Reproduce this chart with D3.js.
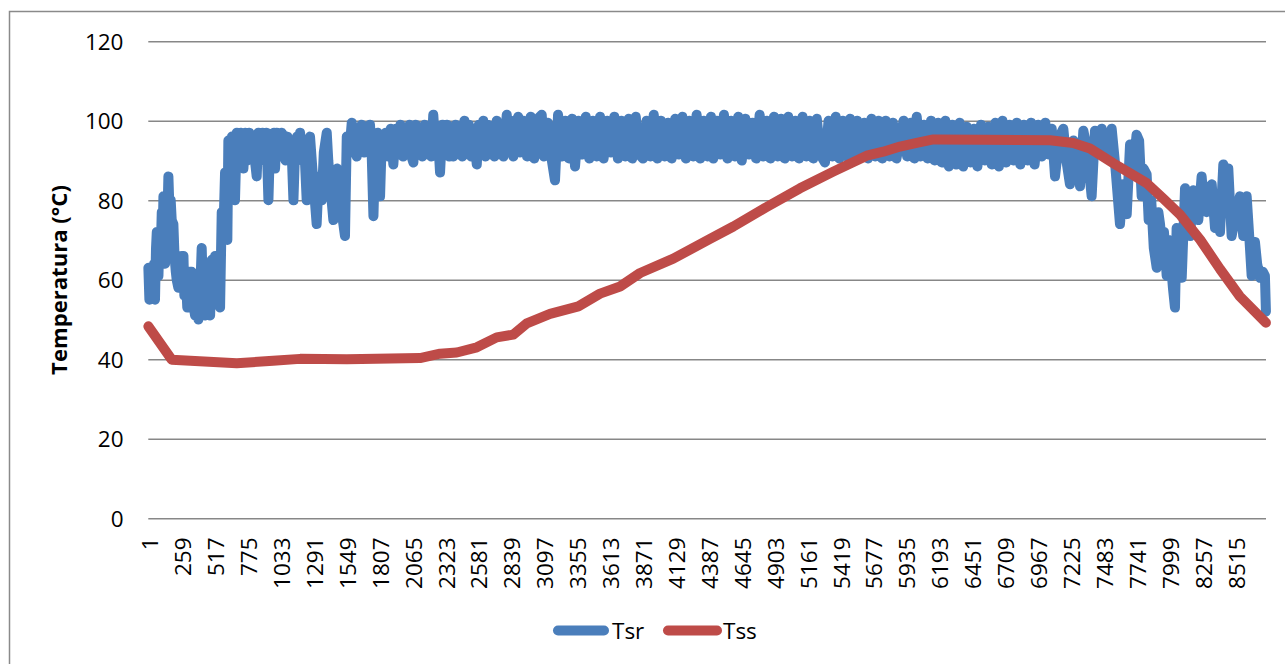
<!DOCTYPE html>
<html><head><meta charset="utf-8">
<script src="https://cdn.jsdelivr.net/npm/d3@7/dist/d3.min.js"></script>
<style>html,body{margin:0;padding:0;background:#fff;overflow:hidden}</style>
</head><body>
<svg id="chart" width="1285" height="664"></svg>
<script>
// ---------------- DATA ----------------
const nCategories = 8760;
const xTickLabels = [1,259,517,775,1033,1291,1549,1807,2065,2323,2581,2839,3097,3355,3613,3871,4129,4387,4645,4903,5161,5419,5677,5935,6193,6451,6709,6967,7225,7483,7741,7999,8257,8515];
const yTicks = [0,20,40,60,80,100,120];
const seriesNames = ["Tsr","Tss"];
const yTitle = "Temperatura (°C)";

// Tsr: [hour index, temperature]
const tsr = [
[0,63],[8,55],[20,62],[30,56],[45,64],[52,55],[60,68],[66,72],[72,62],[79,61],[88,72],[96,66],[105,77],[112,70],[118,81],[125,72],[131,64],[140,80],[150,76],[157,86],[165,78],[175,80],[183,75],[196,74],[205,66],[215,62],[222,60],[235,58],[248,64],[256,59],[262,66],[275,66],[282,56],[295,60],[305,53],[314,53],[325,62],[340,62],[352,54],[366,51],[375,58],[385,52],[392,50],[405,56],[418,68],[430,55],[444,51],[455,60],[465,53],[475,62],[484,51],[497,65],[510,56],[523,66],[535,60],[548,64],[562,53],[575,77],[590,74],[601,87],[612,80],[619,70],[627,95],
[640,90],[655,96],[668,89],[679,80],[693,97],[710,92],[725,97],[745,88],[760,97],[775,90],[790,97],[805,91],[820,96],[835,90],[849,86],[862,97],[878,91],[895,97],[910,90],[925,97],[941,80],[955,96],[970,90],[985,97],[993,88],[1005,97],[1020,92],[1032,91],[1045,97],[1060,96],[1075,90],[1090,96],[1105,91],[1120,95],[1137,80],[1150,93],[1165,96],[1178,92],[1189,97],[1205,90],[1220,95],[1241,80],[1255,92],[1267,96],[1285,88],[1300,82],[1319,74],[1335,86],[1359,80],[1375,92],[1398,97],[1410,90],[1425,84],[1450,75],[1465,85],[1480,88],[1489,87],[1505,80],[1520,76],[1541,71],[1555,96],
[1575,92],[1594,99.5],[1615,93],[1633,91],[1652,98],[1672,99],[1690,92],[1705,98],[1720,93],[1737,99],[1750,92],[1764,76],[1780,95],[1795,97],[1816,81],[1830,96],[1845,93],[1860,97],[1880,91],[1900,98],[1920,89],[1940,98],[1958,92],[1975,99],[1995,91],[2012,98],[2030,92],[2047,99],[2062,91],[2077,89.5],[2095,99],[2112,92],[2130,98],[2147,91],[2165,99],[2182,92],[2200,98],[2217,91],[2233,101.5],[2250,93],[2267,98],[2286,87],[2305,99],[2322,92],[2340,99],[2357,91],[2375,98],[2390,91],[2408,99],[2425,92],[2442,98],[2460,91],[2477,100],[2494,92],[2512,99],[2530,91],[2547,98],[2574,89],[2590,99],[2607,92],[2625,100],[2642,91],[2660,99],[2677,92],[2695,98],[2712,91],[2730,100],[2747,92],[2765,99],[2782,91],[2809,101.5],[2825,92],[2842,100],[2860,91],[2877,99],[2898,101],[2913,92],
[2940,100],[2968,91],[2996,101],[3024,90.5],[3052,100.5],[3083,101.5],[3100,91],[3130,99.5],[3160,90.5],[3187,85],[3211,101.5],[3240,91],[3268,100],[3296,90.5],[3320,100.5],[3344,88.5],[3372,100],[3400,91.5],[3428,101],[3456,90.5],[3484,100],[3512,91],[3540,101],[3568,90.5],[3596,100],[3624,92],[3652,101],[3680,90.5],[3708,100],[3736,91],[3764,100.5],[3792,90.5],[3820,101],[3848,91.5],[3877,90.5],[3905,100],[3933,91],[3961,101.5],[3989,90.5],[4017,100],[4045,91],[4073,99.5],[4101,90.5],[4129,100.5],[4157,91.5],[4185,101],[4213,90.5],[4241,100],[4269,91],[4297,101.5],[4325,90.5],[4353,100],[4381,91],[4409,101],[4427,90.5],[4455,100],[4483,91.5],[4511,101.5],[4539,90.5],[4567,100],[4595,91],[4623,101],[4651,90],[4679,100.5],[4707,91.5],[4735,99.5],[4763,90.5],[4791,101.5],[4819,91],[4847,100],[4875,90.5],[4903,101],[4931,91],[4959,100.5],[4987,90.5],[5015,101],[5043,91],[5071,100],[5099,90.5],[5127,101],[5155,91],[5183,100],[5211,90.5],[5239,100.5],[5267,91.5],[5303,89.5],[5331,100],[5359,91],[5387,101],[5415,90.5],[5443,100],[5471,91],[5499,100.5],[5527,90.5],[5555,100],[5583,91],[5611,99.5],[5639,90.5],[5667,100.5],[5695,91],[5723,100],[5751,90.5],[5779,100],[5807,91],[5835,99.5],[5863,90.5],
[5919,100],[5947,91],[5975,99.5],[6003,90.5],[6022,101],[6050,91],[6078,99],[6106,90.5],[6134,100],[6162,90],[6190,99.5],[6218,89.5],[6246,100],[6274,88.5],[6302,99],[6330,89],[6358,99.5],[6386,88.5],[6414,98.5],[6442,89.5],[6470,98],[6498,88.5],[6526,99],[6554,90],[6582,98.5],[6610,89],[6638,99.5],[6666,88.5],[6694,100],[6722,89.5],[6750,99],[6778,90],[6806,99.5],[6834,89],[6862,99],[6890,90],[6918,99.5],[6946,89],[6974,99],[7002,91],[7030,99.5],[7058,91.5],[7080,98],
[7106,86],[7140,96],[7171,98],[7195,90],[7223,84],[7250,95],[7280,92],[7302,83.5],[7328,97.5],[7360,92],[7393,81],[7419,97.5],[7445,93],[7472,98],[7511,91],[7550,98],[7580,88],[7615,74],[7640,84],[7668,76.5],[7694,94],[7720,88],[7745,96.5],[7765,95],[7785,81],[7800,88],[7824,86.5],[7840,75],[7860,80],[7880,68],[7903,63],[7916,77],[7929,74],[7945,68],[7960,72],[7981,61],[7995,70],[8010,66],[8030,58],[8046,53],[8059,73],[8080,68],[8099,60.5],[8125,83],[8145,76],[8164,71],[8190,82.5],[8210,76],[8229,75],[8255,86],[8275,78],[8295,77],[8315,82],[8334,84],[8360,73],[8380,78],[8399,72],[8425,89],[8445,82],[8464,88],[8490,71],[8520,76],[8555,81],[8581,71],[8608,81],[8630,70],[8647,61],[8673,69.5],[8690,64],[8712,60.5],[8735,62],[8751,61],[8759,52]
];

// Tss: [hour index, temperature]
const tss = [
[0,48.3],[183,39.9],[693,39.0],[977,39.6],[1189,40.1],[1555,40.0],[2129,40.3],[2286,41.4],[2417,41.7],[2574,43.0],[2730,45.5],[2860,46.2],[2966,49.0],[3148,51.4],[3370,53.3],[3540,56.5],[3697,58.3],[3854,61.7],[4114,65.3],[4402,70.3],[4585,73.4],[4846,78.3],[5107,83.0],[5368,87.2],[5630,91.2],[5760,92.2],[5891,93.5],[6022,94.4],[6152,95.3],[6544,95.2],[7067,95.1],[7249,94.4],[7380,93.0],[7563,89.3],[7824,84.3],[7955,80.4],[8086,76.4],[8243,70.1],[8399,62.7],[8555,55.8],[8660,52.4],[8759,49.2]
];

// ---------------- DRAW ----------------
const colors = ["#4a7ebb", "#be4b48"];
const font = "'Open Sans', 'Noto Sans', sans-serif";
const fs = 22.5;
const lw = 10;
const plot = {left:148.3, right:1266, top:41.2, bottom:518.3};

const svg = d3.select("#chart");
const x = d3.scaleLinear().domain([0, nCategories]).range([plot.left, plot.right]);
const y = d3.scaleLinear().domain([0, 120]).range([plot.bottom, plot.top]);

// chart border
svg.append("rect").attr("x",9.5).attr("y",11.5).attr("width",1300).attr("height",700)
  .attr("fill","#fff").attr("stroke","#8a8a8a").attr("stroke-width",1.5);

// y axis with gridlines
const gy = svg.append("g").attr("transform",`translate(${plot.left},0)`)
  .call(d3.axisLeft(y).tickValues(yTicks).tickSize(-(plot.right-plot.left)).tickPadding(plot.left-123.5));
gy.select(".domain").remove();
gy.selectAll(".tick line").attr("stroke","#878787").attr("stroke-width",1.5);
gy.selectAll(".tick text").attr("font-family",font).attr("font-size",fs).attr("fill","#000").attr("dy","0.36em");

// x axis (category labels)
const gx = svg.append("g").attr("transform",`translate(0,${plot.bottom})`)
  .call(d3.axisBottom(x).tickValues(xTickLabels.map(d => d - 0.5)).tickFormat(d => String(Math.round(d + 0.5))).tickSize(0));
gx.select(".domain").remove();
gx.selectAll(".tick text")
  .attr("font-family",font).attr("font-size",fs).attr("fill","#000")
  .attr("transform","rotate(-90)")
  .attr("text-anchor","end")
  .attr("x",-(537.5-plot.bottom)).attr("y",1.5).attr("dy","0.35em");

// y title
const title = svg.append("text")
  .attr("transform","translate(66.5,280) rotate(-90)")
  .attr("text-anchor","middle")
  .attr("font-family",font).attr("font-weight","bold").attr("font-size",22)
  .attr("fill","#000").text(yTitle);
const tl = title.node().getComputedTextLength();
title.attr("font-size", 22*190/tl);

// lines
const line = d3.line().x(d => x(d[0] + 0.5)).y(d => y(d[1]));
[tsr, tss].forEach((data,i) => {
  svg.append("path").datum(data)
    .attr("d", line)
    .attr("fill","none").attr("stroke",colors[i]).attr("stroke-width",lw)
    .attr("stroke-linejoin","round").attr("stroke-linecap","round");
});

// legend
const legendItems = [{x1:558, x2:604, tx:612}, {x1:668, x2:717, tx:723}];
seriesNames.forEach((name,i) => {
  const it = legendItems[i];
  svg.append("line").attr("x1",it.x1).attr("x2",it.x2).attr("y1",630.5).attr("y2",630.5)
    .attr("stroke",colors[i]).attr("stroke-width",lw).attr("stroke-linecap","round");
  svg.append("text").attr("x",it.tx).attr("y",638.5)
    .attr("font-family",font).attr("font-size",fs).attr("fill","#000").text(name);
});
</script>
</body></html>
